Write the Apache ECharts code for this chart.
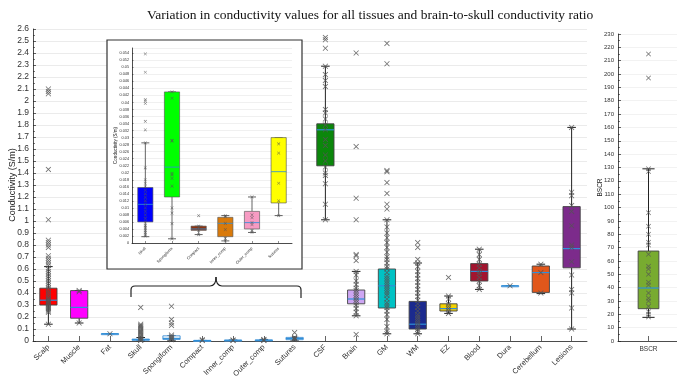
<!DOCTYPE html>
<html>
<head>
<meta charset="utf-8">
<script src="https://cdn.jsdelivr.net/npm/echarts@6/dist/echarts.min.js"></script>
<style>
html, body { margin: 0; padding: 0; background: #fff; }
#chart { width: 677px; height: 382px; }
</style>
</head>
<body>
<div id="chart"></div>
<script>
// main panel: conductivity per tissue (S/m)
const tissues = ['Scalp', 'Muscle', 'Fat', 'Skull', 'Spongiform', 'Compact', 'Inner_comp', 'Outer_comp', 'Sutures',
  'CSF', 'Brain', 'GM', 'WM', 'EZ', 'Blood', 'Dura', 'Cerebellum', 'Lesions']
// [whisker low, Q1, median, Q3, whisker high]
const tissueStats = [
  [0.14, 0.30, 0.34, 0.44, 0.62],
  [0.15, 0.19, 0.28, 0.42, 0.42],
  [0.06, 0.059, 0.06, 0.061, 0.06],
  [0.002, 0.006, 0.011, 0.016, 0.029],
  [0.001, 0.013, 0.022, 0.043, 0.043],
  [0.0024, 0.0036, 0.004, 0.0048, 0.0048],
  [0.0006, 0.0018, 0.0056, 0.0073, 0.0078],
  [0.003, 0.004, 0.0058, 0.009, 0.013],
  [0.008, 0.011, 0.020, 0.030, 0.030],
  [1.01, 1.46, 1.76, 1.81, 2.29],
  [0.21, 0.31, 0.35, 0.425, 0.58],
  [0.06, 0.275, 0.46, 0.60, 1.01],
  [0.06, 0.10, 0.14, 0.33, 0.65],
  [0.23, 0.25, 0.27, 0.31, 0.375],
  [0.43, 0.50, 0.58, 0.645, 0.765],
  [0.46, 0.46, 0.46, 0.46, 0.46],
  [0.395, 0.405, 0.57, 0.625, 0.64],
  [0.10, 0.61, 0.77, 1.12, 1.78]
]
const tissuePoints = [
  [2.10, 2.08, 2.06, 1.43, 1.01, 0.84, 0.82, 0.80, 0.78, 0.71, 0.69, 0.67, 0.65, 0.63, 0.60, 0.58, 0.56, 0.54, 0.52,
    0.50, 0.48, 0.46, 0.44, 0.42, 0.40, 0.38, 0.36, 0.35, 0.34, 0.33, 0.32, 0.31, 0.30, 0.29, 0.28, 0.27, 0.26, 0.25, 0.24, 0.14],
  [0.42, 0.41, 0.15],
  [0.06],
  [0.28, 0.14, 0.13, 0.12, 0.11, 0.10, 0.09, 0.08, 0.07, 0.06, 0.05, 0.04, 0.03, 0.02, 0.01, 0.005],
  [0.29, 0.18, 0.15, 0.13, 0.05, 0.04, 0.03, 0.02, 0.01],
  [0.01, 0.005],
  [0.008, 0.005],
  [0.013, 0.008, 0.005],
  [0.07, 0.03, 0.025, 0.02, 0.017, 0.012],
  [2.53, 2.51, 2.44, 2.29, 2.22, 2.17, 2.12, 1.93, 1.90, 1.85, 1.80, 1.76, 1.68, 1.63, 1.55, 1.50, 1.45, 1.40, 1.38, 1.31, 1.14, 1.01],
  [2.40, 1.62, 1.19, 1.01, 0.72, 0.71, 0.67, 0.58, 0.55, 0.50, 0.47, 0.44, 0.42, 0.40, 0.38, 0.36, 0.34, 0.32, 0.30, 0.27, 0.24, 0.21, 0.055],
  [2.48, 2.31, 1.42, 1.41, 1.32, 1.23, 1.14, 1.10, 1.01, 0.95, 0.90, 0.86, 0.82, 0.78, 0.74, 0.70, 0.68, 0.65, 0.62, 0.60,
    0.57, 0.54, 0.52, 0.50, 0.48, 0.46, 0.44, 0.42, 0.40, 0.38, 0.35, 0.32, 0.30, 0.28, 0.25, 0.22, 0.18, 0.12, 0.08, 0.06],
  [0.82, 0.78, 0.68, 0.65, 0.62, 0.58, 0.55, 0.52, 0.49, 0.46, 0.43, 0.40, 0.37, 0.34, 0.31, 0.28, 0.25, 0.22, 0.20, 0.18,
    0.16, 0.14, 0.12, 0.10, 0.08, 0.06],
  [0.53, 0.375, 0.35, 0.31, 0.29, 0.27, 0.25, 0.23],
  [0.765, 0.72, 0.68, 0.64, 0.61, 0.58, 0.56, 0.53, 0.50, 0.46, 0.43],
  [0.46],
  [0.64, 0.57, 0.40],
  [1.78, 1.24, 1.21, 1.13, 1.08, 0.96, 0.80, 0.78, 0.66, 0.55, 0.43, 0.40, 0.275, 0.10]
]
const yTicksMain = { min: 0, max: 2.6, step: 0.1 }

// inset: skull compartments (S/m)
const skullParts = ['Skull', 'Spongiform', 'Compact', 'Inner_comp', 'Outer_comp', 'Sutures']
const skullStats = [
  [0.0018, 0.006, 0.011, 0.0158, 0.0285],
  [0.0012, 0.0131, 0.0216, 0.043, 0.043],
  [0.0024, 0.0036, 0.004, 0.0048, 0.0048],
  [0.0006, 0.0018, 0.0056, 0.0073, 0.0078],
  [0.003, 0.004, 0.0058, 0.009, 0.0131],
  [0.0078, 0.0114, 0.0203, 0.030, 0.030]
]
const skullPoints = [
  [0.0538, 0.0486, 0.0408, 0.0404, 0.0397, 0.0346, 0.0322, 0.0285, 0.0214, 0.018, 0.017, 0.016, 0.015, 0.014, 0.013,
    0.012, 0.011, 0.010, 0.009, 0.008, 0.007, 0.006, 0.005, 0.0045, 0.004, 0.0035, 0.003, 0.0025, 0.002],
  [0.043, 0.0412, 0.0292, 0.029, 0.0198, 0.0194, 0.0184, 0.0162, 0.010, 0.0085, 0.0055, 0.0012],
  [0.0078, 0.0048, 0.0044, 0.0036, 0.0024],
  [0.0078, 0.0075, 0.0056, 0.0038, 0.0013, 0.0006],
  [0.0131, 0.008, 0.0072, 0.0058, 0.0052, 0.0035, 0.003],
  [0.0282, 0.0256, 0.017, 0.012, 0.0078]
]
const yTicksInset = { min: 0, max: 0.0555, step: 0.002 }

// right panel: brain-to-skull conductivity ratio
const ratioNames = ['BSCR']
const ratioStats = [[17.7, 24.2, 39.7, 67.4, 129]]
const ratioPoints = [[215, 197, 129, 127, 96, 86, 80, 74, 72, 65, 56, 54, 50, 44, 42, 36, 32, 30, 26, 22, 20, 18]]
const yTicksRatio = { min: 0, max: 230, step: 10 }

// styles
const tissueFill = ['#ff0000', '#ff00ff', '#ffffff', '#ffffff', '#ffffff', '#ffffff', '#ffffff', '#ffffff', '#ffffff',
  '#0b870b', '#cda6f3', '#00c2c4', '#1b2a8e', '#f2d100', '#a3142f', '#ffffff', '#e1571b', '#7c2b8b']
const tissueBorder = tissueFill.map((c) => (c === '#ffffff' ? '#3d8fd6' : '#444'))
const skullFill = ['#0000ff', '#00ff00', '#8e3410', '#d97a0b', '#f79bc3', '#ffff00']
const ratioFill = ['#78ab30']

const FONT = 'Liberation Sans'
const LABEL = '#333'
const XMARK = 'path://M0,1L1,0L5,4L9,0L10,1L6,5L10,9L9,10L5,6L1,10L0,9L4,5Z'

function boxRenderer(fills, borders, widthFrac, capFrac, lw) {
  return function (params, api) {
    const i = api.value(0)
    const pLo = api.coord([i, api.value(1)])
    const pQ1 = api.coord([i, api.value(2)])
    const pMed = api.coord([i, api.value(3)])
    const pQ3 = api.coord([i, api.value(4)])
    const pHi = api.coord([i, api.value(5)])
    const cw = api.size([1, 0])[0]
    const bw = cw * widthFrac
    const cap = cw * capFrac
    const x = pLo[0]
    const whisk = { stroke: '#222', lineWidth: lw }
    return {
      type: 'group',
      children: [
        { type: 'line', shape: { x1: x, y1: pLo[1], x2: x, y2: pQ1[1] }, style: whisk },
        { type: 'line', shape: { x1: x, y1: pQ3[1], x2: x, y2: pHi[1] }, style: whisk },
        { type: 'line', shape: { x1: x - cap / 2, y1: pLo[1], x2: x + cap / 2, y2: pLo[1] }, style: whisk },
        { type: 'line', shape: { x1: x - cap / 2, y1: pHi[1], x2: x + cap / 2, y2: pHi[1] }, style: whisk },
        {
          type: 'rect',
          shape: { x: x - bw / 2, y: pQ3[1], width: bw, height: Math.max(pQ1[1] - pQ3[1], 1) },
          style: { fill: fills[params.dataIndex], stroke: borders[params.dataIndex], lineWidth: lw * 0.9 },
        },
        { type: 'line', shape: { x1: x - bw / 2, y1: pMed[1], x2: x + bw / 2, y2: pMed[1] }, style: { stroke: '#2f8fd8', lineWidth: lw * 1.2 } },
      ],
    }
  }
}

const toRows = (stats) => stats.map((s, i) => [i, ...s])
const toPts = (pts) => pts.flatMap((arr, i) => arr.map((v) => [i, v]))

function valueAxis(grid, t, fs, extra) {
  return Object.assign({
    type: 'value', gridIndex: grid, min: t.min, max: t.max, interval: t.step,
    nameMoveOverlap: false,
    axisLine: { show: true, lineStyle: { color: '#222', width: 0.8 } },
    axisTick: { show: true, inside: true, length: 3, lineStyle: { color: '#222', width: 0.7 } },
    minorTick: { show: true, splitNumber: 2, length: 2, lineStyle: { color: '#222', width: 0.6 } },
    axisLabel: { fontFamily: FONT, fontSize: fs, color: LABEL, margin: 4 },
    splitLine: { show: true, lineStyle: { color: '#e6e6e6', width: 0.8 } },
  }, extra || {})
}

function catAxis(grid, names, fs, rotate, extra) {
  return Object.assign({
    type: 'category', gridIndex: grid, data: names,
    axisLine: { lineStyle: { color: '#222', width: 0.8 } },
    axisTick: { show: true, inside: true, alignWithLabel: true, length: 5, lineStyle: { color: '#222', width: 0.7 } },
    axisLabel: { fontFamily: FONT, fontSize: fs, color: LABEL, rotate: rotate, margin: 5, interval: 0 },
    splitLine: { show: false },
  }, extra || {})
}

const chart = echarts.init(document.getElementById('chart'))

// curly brace under the inset
const brace = [
  { type: 'polyline', shape: { points: [[131, 297], [131, 290]] } },
  { type: 'bezierCurve', shape: { x1: 131, y1: 290, x2: 135, y2: 286, cpx1: 131, cpy1: 286 } },
  { type: 'polyline', shape: { points: [[135, 286], [210, 286]] } },
  { type: 'bezierCurve', shape: { x1: 210, y1: 286, x2: 216, y2: 277, cpx1: 216, cpy1: 286 } },
  { type: 'bezierCurve', shape: { x1: 216, y1: 277, x2: 222, y2: 286, cpx1: 216, cpy1: 286 } },
  { type: 'polyline', shape: { points: [[222, 286], [297, 286]] } },
  { type: 'bezierCurve', shape: { x1: 297, y1: 286, x2: 301, y2: 290, cpx1: 301, cpy1: 286 } },
  { type: 'polyline', shape: { points: [[301, 290], [301, 298]] } },
].map((el) => Object.assign(el, { z: 50, style: { fill: null, stroke: '#222', lineWidth: 1.2 } }))

chart.setOption({
  animation: false,
  backgroundColor: '#fff',
  title: {
    text: 'Variation in conductivity values for all tissues and brain-to-skull conductivity ratio',
    left: 142, top: 3,
    textStyle: { fontFamily: 'Liberation Serif', fontWeight: 'normal', fontSize: 13.5, color: '#111' },
  },
  grid: [
    { left: 33, right: 90, top: 29, bottom: 41, outerBoundsMode: 'none' },
    { left: 618, right: -2, top: 34, bottom: 41, outerBoundsMode: 'none' },
    { left: 132, right: 385, top: 48, bottom: 139, outerBoundsMode: 'none' },
  ],
  xAxis: [
    catAxis(0, tissues, 7.5, 45),
    catAxis(1, ratioNames, 6.5, 0),
    catAxis(2, skullParts, 4, 45, {
      z: 60,
      axisTick: { show: true, inside: true, alignWithLabel: true, length: 2, lineStyle: { color: '#222', width: 0.5 } },
    }),
  ],
  yAxis: [
    valueAxis(0, yTicksMain, 8.5, {
      name: 'Conductivity (S/m)', nameLocation: 'middle', nameGap: 16,
      nameTextStyle: { fontFamily: FONT, fontSize: 9, color: '#222' },
    }),
    valueAxis(1, yTicksRatio, 6, {
      name: 'BSCR', nameLocation: 'middle', nameGap: 14,
      nameTextStyle: { fontFamily: FONT, fontSize: 6.5, color: '#222' },
      splitLine: { show: true, lineStyle: { color: '#efefef', width: 0.8 } },
    }),
    valueAxis(2, yTicksInset, 3.8, {
      z: 60,
      name: 'Conductivity (S/m)', nameLocation: 'middle', nameGap: 14,
      nameTextStyle: { fontFamily: FONT, fontSize: 4.5, color: '#222' },
      axisTick: { show: true, inside: true, length: 1.5, lineStyle: { color: '#222', width: 0.5 } },
      minorTick: { show: false },
      axisLabel: { fontFamily: FONT, fontSize: 3.8, color: LABEL, margin: 3, showMaxLabel: false },
      splitLine: { show: true, lineStyle: { color: '#e6e6e6', width: 0.6 } },
    }),
  ],
  graphic: [
    {
      type: 'rect', z: 50,
      shape: { x: 107, y: 40, width: 195, height: 229 },
      style: { fill: '#fff', stroke: '#333', lineWidth: 1.2 },
    },
    ...brace,
  ],
  series: [
    {
      type: 'custom', xAxisIndex: 0, yAxisIndex: 0, z: 2,
      renderItem: boxRenderer(tissueFill, tissueBorder, 0.56, 0.28, 1),
      encode: { x: 0, y: [1, 2, 3, 4, 5] },
      data: toRows(tissueStats),
    },
    {
      type: 'scatter', xAxisIndex: 0, yAxisIndex: 0, z: 3,
      symbol: XMARK, symbolSize: 5.5,
      itemStyle: { color: '#555', opacity: 0.85 },
      data: toPts(tissuePoints),
    },
    {
      type: 'custom', xAxisIndex: 1, yAxisIndex: 1, z: 2,
      renderItem: boxRenderer(ratioFill, ['#444'], 0.34, 0.2, 1),
      encode: { x: 0, y: [1, 2, 3, 4, 5] },
      data: toRows(ratioStats),
    },
    {
      type: 'scatter', xAxisIndex: 1, yAxisIndex: 1, z: 3,
      symbol: XMARK, symbolSize: 5,
      itemStyle: { color: '#555', opacity: 0.85 },
      data: toPts(ratioPoints),
    },
    {
      type: 'custom', xAxisIndex: 2, yAxisIndex: 2, z: 60,
      renderItem: boxRenderer(skullFill, ['#555', '#555', '#555', '#555', '#555', '#555'], 0.57, 0.3, 0.7),
      encode: { x: 0, y: [1, 2, 3, 4, 5] },
      data: toRows(skullStats),
    },
    {
      type: 'scatter', xAxisIndex: 2, yAxisIndex: 2, z: 61,
      symbol: XMARK, symbolSize: 3.2,
      itemStyle: { color: '#555', opacity: 0.85 },
      data: toPts(skullPoints),
    },
  ],
})
</script>
</body>
</html>
